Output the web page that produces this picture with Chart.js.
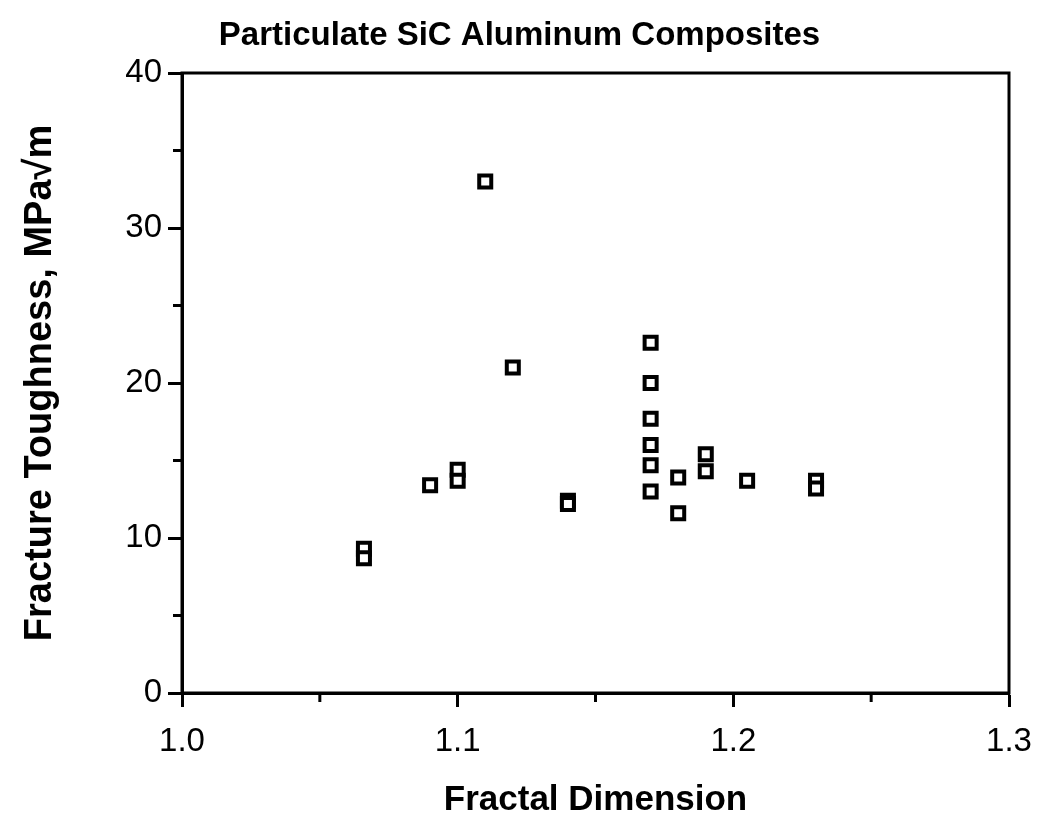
<!DOCTYPE html>
<html>
<head>
<meta charset="utf-8">
<script src="https://cdn.jsdelivr.net/npm/chart.js@4"></script>
<style>
  body { margin: 0; background: #fff; }
  #chart { display: block; }
</style>
</head>
<body>
<canvas id="chart" width="1044" height="827"></canvas>
<script>
'use strict';

// values (fractal dimension vs fracture toughness)
const fractalDim = [1.066, 1.066, 1.09, 1.10, 1.10, 1.11, 1.12, 1.14, 1.14,
  1.17, 1.17, 1.17, 1.17, 1.17, 1.17, 1.18, 1.18, 1.19, 1.19, 1.205, 1.23, 1.23];
const toughness = [9.3, 8.7, 13.4, 14.4, 13.7, 33.0, 21.0, 12.4, 12.2,
  22.6, 20.0, 17.7, 16.0, 14.7, 13.0, 13.9, 11.6, 15.4, 14.3, 13.7, 13.7, 13.2];

const xRange = [1.0, 1.3];
const yRange = [0, 40];
const xStep = 0.05;   // minor step, labels every 0.1
const yStep = 5;      // minor step, labels every 10

let points = [];
for (let i = 0; i < fractalDim.length; i++) {
  points.push({ x: fractalDim[i], y: toughness[i] });
}

function isMajor(value, every) {
  let r = value / every;
  return Math.abs(r - Math.round(r)) < 1e-6;
}

Chart.defaults.font.family = '"Liberation Sans", Arial, Helvetica, sans-serif';
Chart.defaults.color = '#000';

// box round the plot and the short minor ticks
const frame = {
  id: 'frame',
  afterLayout(chart) {
    // title sits a little right of the canvas centre in the original
    chart.titleBlock.left += 30;
  },
  afterDraw(chart) {
    const ctx = chart.ctx;
    const a = chart.chartArea;
    ctx.save();
    ctx.strokeStyle = '#000';
    ctx.lineWidth = 3;
    ctx.strokeRect(a.left, a.top, a.right - a.left, a.bottom - a.top);
    let xs = chart.scales.x;
    xs.ticks.forEach(function (t) {
      if (!isMajor(t.value, 0.1)) {
        let px = xs.getPixelForValue(t.value);
        ctx.beginPath();
        ctx.moveTo(px, a.bottom);
        ctx.lineTo(px, a.bottom + 9);
        ctx.stroke();
      }
    });
    let ys = chart.scales.y;
    ys.ticks.forEach(function (t) {
      if (!isMajor(t.value, 10)) {
        let py = ys.getPixelForValue(t.value);
        ctx.beginPath();
        ctx.moveTo(a.left, py);
        ctx.lineTo(a.left - 9, py);
        ctx.stroke();
      }
    });
    ctx.restore();
  }
};

const ctx = document.getElementById('chart').getContext('2d');

new Chart(ctx, {
  type: 'scatter',
  data: {
    datasets: [{
      data: points,
      pointStyle: 'rect',
      pointRadius: 8.5,
      pointHoverRadius: 8.5,
      backgroundColor: '#fff',
      borderColor: '#000',
      borderWidth: 4
    }]
  },
  options: {
    responsive: false,
    animation: false,
    devicePixelRatio: 1,
    layout: { padding: { left: 0, right: 35, top: 0, bottom: 0 } },
    plugins: {
      legend: { display: false },
      tooltip: { enabled: false },
      title: {
        display: true,
        text: 'Particulate SiC Aluminum Composites',
        font: { size: 33, weight: 'bold', lineHeight: 1.2 },
        color: '#000',
        padding: { top: 16, bottom: 17.4 }
      }
    },
    scales: {
      x: {
        type: 'linear',
        min: xRange[0],
        max: xRange[1],
        afterFit(scale) {
          scale.height = 134;
          scale.paddingLeft = 0;
          scale.paddingRight = 0;
        },
        border: { display: true, color: '#000', width: 3 },
        grid: {
          drawOnChartArea: false,
          tickLength: 14,
          tickWidth: 3,
          tickColor: function (c) {
            return c.tick && isMajor(c.tick.value, 0.1) ? '#000' : 'rgba(0,0,0,0)';
          }
        },
        ticks: {
          stepSize: xStep,
          autoSkip: false,
          maxRotation: 0,
          padding: 15,
          font: { size: 33 },
          color: '#000',
          callback: function (v) { return isMajor(v, 0.1) ? v.toFixed(1) : ''; }
        },
        title: {
          display: true,
          text: 'Fractal Dimension',
          font: { size: 35, weight: 'bold', lineHeight: 1.2 },
          color: '#000',
          padding: { top: 0, bottom: 6 }
        }
      },
      y: {
        type: 'linear',
        min: yRange[0],
        max: yRange[1],
        afterFit(scale) {
          scale.width = 182;
          scale.paddingTop = 0;
          scale.paddingBottom = 0;
        },
        border: { display: true, color: '#000', width: 3 },
        grid: {
          drawOnChartArea: false,
          tickLength: 14,
          tickWidth: 3,
          tickColor: function (c) {
            return c.tick && isMajor(c.tick.value, 10) ? '#000' : 'rgba(0,0,0,0)';
          }
        },
        ticks: {
          stepSize: yStep,
          autoSkip: false,
          padding: 6,
          font: { size: 33 },
          color: '#000',
          callback: function (v) { return isMajor(v, 10) ? String(v) : ''; }
        },
        title: {
          display: true,
          text: 'Fracture Toughness, MPa\u221Am',
          font: { size: 38, weight: 'bold', lineHeight: 1.2 },
          color: '#000',
          padding: { top: 18, bottom: 0 }
        }
      }
    }
  },
  plugins: [frame]
});
</script>
</body>
</html>
